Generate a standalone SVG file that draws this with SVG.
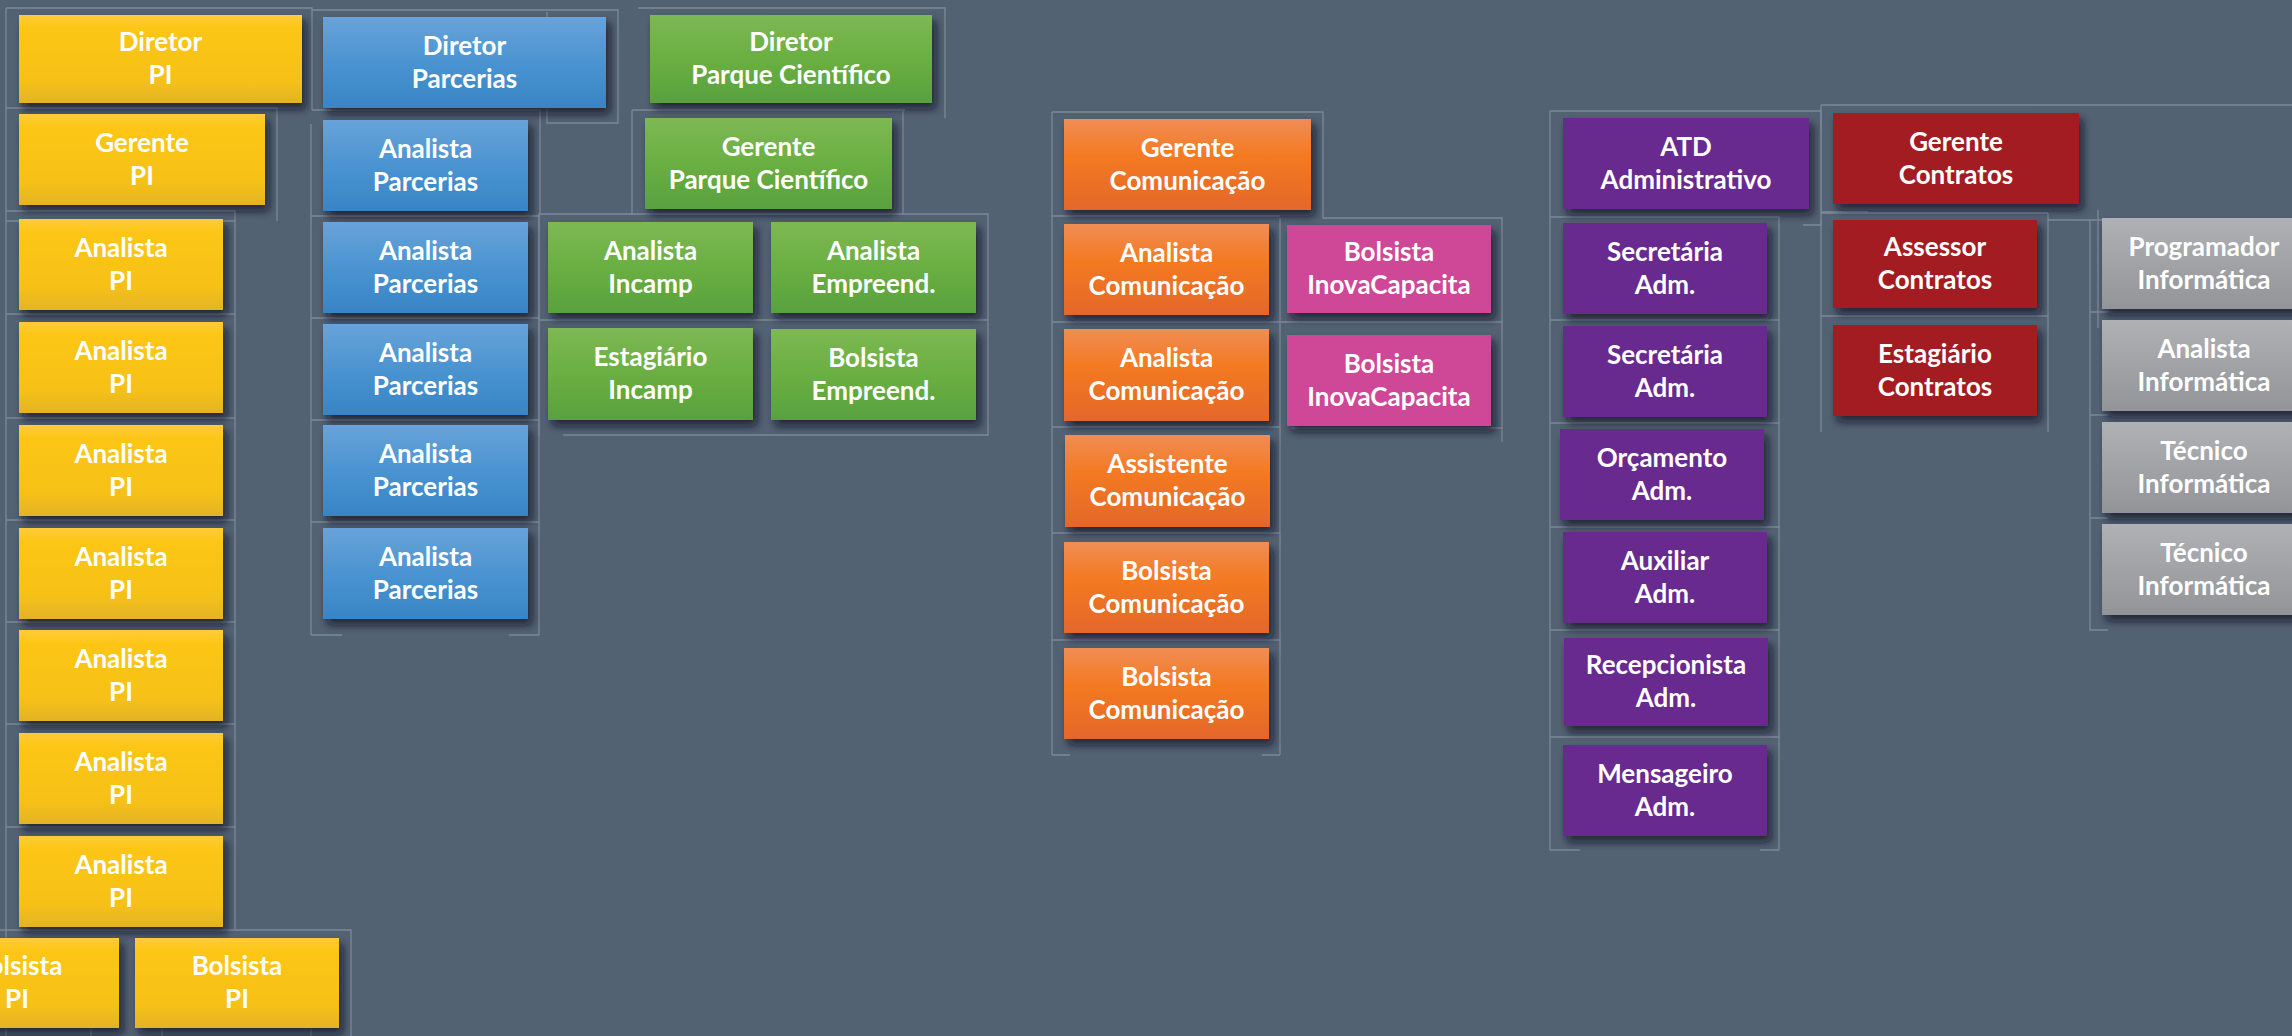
<svg xmlns="http://www.w3.org/2000/svg" width="2292" height="1036" viewBox="0 0 2292 1036">
<defs>
<linearGradient id="gY" x1="0" y1="0" x2="0" y2="1"><stop offset="0" stop-color="#FFCB3A"/><stop offset="0.15" stop-color="#FDC615"/><stop offset="0.75" stop-color="#F6C118"/><stop offset="1" stop-color="#E3B326"/></linearGradient>
<linearGradient id="gB" x1="0" y1="0" x2="0" y2="1"><stop offset="0" stop-color="#68A3D9"/><stop offset="0.55" stop-color="#4892D0"/><stop offset="1" stop-color="#3984C5"/></linearGradient>
<linearGradient id="gG" x1="0" y1="0" x2="0" y2="1"><stop offset="0" stop-color="#7DB853"/><stop offset="0.5" stop-color="#6AAF42"/><stop offset="1" stop-color="#58A13F"/></linearGradient>
<linearGradient id="gO" x1="0" y1="0" x2="0" y2="1"><stop offset="0" stop-color="#F08D55"/><stop offset="0.4" stop-color="#F47A22"/><stop offset="1" stop-color="#E3672A"/></linearGradient>
<linearGradient id="gS" x1="0" y1="0" x2="0" y2="1"><stop offset="0" stop-color="#AFB1B4"/><stop offset="1" stop-color="#929497"/></linearGradient>
<filter id="sh" x="-10%" y="-10%" width="130%" height="140%"><feDropShadow dx="4" dy="6" stdDeviation="4" flood-color="#0d1520" flood-opacity="0.75"/></filter>
</defs>
<style>
.n rect{filter:url(#sh)}
.y rect{fill:url(#gY)}
.b rect{fill:url(#gB)}
.g rect{fill:url(#gG)}
.o rect{fill:url(#gO)}
.p rect{fill:#CF4697}
.v rect{fill:#682C8F}
.r rect{fill:#A31D22}
.s rect{fill:url(#gS)}
.n text{font-family:Lato,"Open Sans","Liberation Sans",sans-serif;font-weight:700;font-size:26px;fill:#fff;text-anchor:middle}
.c{stroke:#8D99A7;stroke-width:1.3;fill:none;opacity:0.7}
</style>
<rect width="2292" height="1036" fill="#536273"/>
<g id="connectors" class="c">
<path d="M6 8V1036M6 8H312V110M6 108H277V221M6 221H235M6 211H235V930M6 314H235M6 418H235M6 520H235M6 622H235M6 724H235M6 827H235M0 930H351V1036M91 1028V1036M162 1028V1036M311 1028V1036"/>
<path d="M312 10H618V123H547V12M312 110H540V213M311 124V635M539 213V635M311 216H539M311 318H539M311 420H539M311 522H539M311 635H342M509 635H539"/>
<path d="M638 8H945V118M632 110H905M632 110V215M903 110V215M539 214H988V436M539 214V436M539 320H988M563 435H988"/>
<path d="M1052 112H1323V218H1502V442M1052 112V755M1052 216H1280M1280 218V755M1052 322H1502M1052 427H1280M1052 533H1280M1052 640H1280M1052 755H1070M1262 755H1280M1291 428H1502"/>
<path d="M1550 111H1821V225H1803M1550 111V850M1550 217H1779V850M1550 320H1779M1550 423H1779M1550 527H1779M1550 630H1779M1550 737H1779M1550 850H1580M1760 850H1779"/>
<path d="M1821 105H2292M1821 105V212H1868M1821 220V432M2048 213V432M1821 316H2048M1821 213H2048M2048 220H2292M2090 220V630H2108M2098 210V328M2090 312H2108M2090 415H2108M2090 518H2108"/>
</g>
<g id="diretor-pi" class="n y"><rect x="19" y="15" width="283" height="88"/><text x="160.5" y="51">Diretor</text><text x="160.5" y="84">PI</text></g>
<g id="gerente-pi" class="n y"><rect x="19" y="114" width="246" height="91"/><text x="142" y="151.5">Gerente</text><text x="142" y="184.5">PI</text></g>
<g id="analista-pi-1" class="n y"><rect x="19" y="219" width="204" height="91"/><text x="121" y="256.5">Analista</text><text x="121" y="289.5">PI</text></g>
<g id="analista-pi-2" class="n y"><rect x="19" y="322" width="204" height="91"/><text x="121" y="359.5">Analista</text><text x="121" y="392.5">PI</text></g>
<g id="analista-pi-3" class="n y"><rect x="19" y="425" width="204" height="91"/><text x="121" y="462.5">Analista</text><text x="121" y="495.5">PI</text></g>
<g id="analista-pi-4" class="n y"><rect x="19" y="528" width="204" height="91"/><text x="121" y="565.5">Analista</text><text x="121" y="598.5">PI</text></g>
<g id="analista-pi-5" class="n y"><rect x="19" y="630" width="204" height="91"/><text x="121" y="667.5">Analista</text><text x="121" y="700.5">PI</text></g>
<g id="analista-pi-6" class="n y"><rect x="19" y="733" width="204" height="91"/><text x="121" y="770.5">Analista</text><text x="121" y="803.5">PI</text></g>
<g id="analista-pi-7" class="n y"><rect x="19" y="836" width="204" height="91"/><text x="121" y="873.5">Analista</text><text x="121" y="906.5">PI</text></g>
<g id="bolsista-pi-1" class="n y"><rect x="-85" y="938" width="204" height="90"/><text x="17" y="975">Bolsista</text><text x="17" y="1008">PI</text></g>
<g id="bolsista-pi-2" class="n y"><rect x="135" y="938" width="204" height="90"/><text x="237" y="975">Bolsista</text><text x="237" y="1008">PI</text></g>
<g id="diretor-parcerias" class="n b"><rect x="323" y="17" width="283" height="91"/><text x="464.5" y="54.5">Diretor</text><text x="464.5" y="87.5">Parcerias</text></g>
<g id="analista-parcerias-1" class="n b"><rect x="323" y="120" width="205" height="91"/><text x="425.5" y="157.5">Analista</text><text x="425.5" y="190.5">Parcerias</text></g>
<g id="analista-parcerias-2" class="n b"><rect x="323" y="222" width="205" height="91"/><text x="425.5" y="259.5">Analista</text><text x="425.5" y="292.5">Parcerias</text></g>
<g id="analista-parcerias-3" class="n b"><rect x="323" y="324" width="205" height="91"/><text x="425.5" y="361.5">Analista</text><text x="425.5" y="394.5">Parcerias</text></g>
<g id="analista-parcerias-4" class="n b"><rect x="323" y="425" width="205" height="91"/><text x="425.5" y="462.5">Analista</text><text x="425.5" y="495.5">Parcerias</text></g>
<g id="analista-parcerias-5" class="n b"><rect x="323" y="528" width="205" height="91"/><text x="425.5" y="565.5">Analista</text><text x="425.5" y="598.5">Parcerias</text></g>
<g id="diretor-parque" class="n g"><rect x="650" y="15" width="282" height="88"/><text x="791" y="51">Diretor</text><text x="791" y="84">Parque Científico</text></g>
<g id="gerente-parque" class="n g"><rect x="645" y="118" width="247" height="91"/><text x="768.5" y="155.5">Gerente</text><text x="768.5" y="188.5">Parque Científico</text></g>
<g id="analista-incamp" class="n g"><rect x="548" y="222" width="205" height="91"/><text x="650.5" y="259.5">Analista</text><text x="650.5" y="292.5">Incamp</text></g>
<g id="analista-empreend" class="n g"><rect x="771" y="222" width="205" height="91"/><text x="873.5" y="259.5">Analista</text><text x="873.5" y="292.5">Empreend.</text></g>
<g id="estagiario-incamp" class="n g"><rect x="548" y="328" width="205" height="92"/><text x="650.5" y="366">Estagiário</text><text x="650.5" y="399">Incamp</text></g>
<g id="bolsista-empreend" class="n g"><rect x="771" y="329" width="205" height="91"/><text x="873.5" y="366.5">Bolsista</text><text x="873.5" y="399.5">Empreend.</text></g>
<g id="gerente-comunicacao" class="n o"><rect x="1064" y="119" width="247" height="91"/><text x="1187.5" y="156.5">Gerente</text><text x="1187.5" y="189.5">Comunicação</text></g>
<g id="analista-comunicacao-1" class="n o"><rect x="1064" y="224" width="205" height="91"/><text x="1166.5" y="261.5">Analista</text><text x="1166.5" y="294.5">Comunicação</text></g>
<g id="analista-comunicacao-2" class="n o"><rect x="1064" y="329" width="205" height="92"/><text x="1166.5" y="367">Analista</text><text x="1166.5" y="400">Comunicação</text></g>
<g id="assistente-comunicacao" class="n o"><rect x="1065" y="435" width="205" height="92"/><text x="1167.5" y="473">Assistente</text><text x="1167.5" y="506">Comunicação</text></g>
<g id="bolsista-comunicacao-1" class="n o"><rect x="1064" y="542" width="205" height="91"/><text x="1166.5" y="579.5">Bolsista</text><text x="1166.5" y="612.5">Comunicação</text></g>
<g id="bolsista-comunicacao-2" class="n o"><rect x="1064" y="648" width="205" height="91"/><text x="1166.5" y="685.5">Bolsista</text><text x="1166.5" y="718.5">Comunicação</text></g>
<g id="bolsista-inova-1" class="n p"><rect x="1287" y="225" width="204" height="88"/><text x="1389" y="261">Bolsista</text><text x="1389" y="294">InovaCapacita</text></g>
<g id="bolsista-inova-2" class="n p"><rect x="1287" y="335" width="204" height="91"/><text x="1389" y="372.5">Bolsista</text><text x="1389" y="405.5">InovaCapacita</text></g>
<g id="atd-administrativo" class="n v"><rect x="1563" y="118" width="246" height="91"/><text x="1686" y="155.5">ATD</text><text x="1686" y="188.5">Administrativo</text></g>
<g id="secretaria-adm-1" class="n v"><rect x="1563" y="223" width="204" height="91"/><text x="1665" y="260.5">Secretária</text><text x="1665" y="293.5">Adm.</text></g>
<g id="secretaria-adm-2" class="n v"><rect x="1563" y="326" width="204" height="91"/><text x="1665" y="363.5">Secretária</text><text x="1665" y="396.5">Adm.</text></g>
<g id="orcamento-adm" class="n v"><rect x="1560" y="429" width="204" height="91"/><text x="1662" y="466.5">Orçamento</text><text x="1662" y="499.5">Adm.</text></g>
<g id="auxiliar-adm" class="n v"><rect x="1563" y="532" width="204" height="91"/><text x="1665" y="569.5">Auxiliar</text><text x="1665" y="602.5">Adm.</text></g>
<g id="recepcionista-adm" class="n v"><rect x="1564" y="638" width="204" height="88"/><text x="1666" y="674">Recepcionista</text><text x="1666" y="707">Adm.</text></g>
<g id="mensageiro-adm" class="n v"><rect x="1563" y="745" width="204" height="91"/><text x="1665" y="782.5">Mensageiro</text><text x="1665" y="815.5">Adm.</text></g>
<g id="gerente-contratos" class="n r"><rect x="1833" y="113" width="246" height="91"/><text x="1956" y="150.5">Gerente</text><text x="1956" y="183.5">Contratos</text></g>
<g id="assessor-contratos" class="n r"><rect x="1833" y="220" width="204" height="88"/><text x="1935" y="256">Assessor</text><text x="1935" y="289">Contratos</text></g>
<g id="estagiario-contratos" class="n r"><rect x="1833" y="325" width="204" height="91"/><text x="1935" y="362.5">Estagiário</text><text x="1935" y="395.5">Contratos</text></g>
<g id="programador-informatica" class="n s"><rect x="2102" y="218" width="204" height="91"/><text x="2204" y="255.5">Programador</text><text x="2204" y="288.5">Informática</text></g>
<g id="analista-informatica" class="n s"><rect x="2102" y="320" width="204" height="91"/><text x="2204" y="357.5">Analista</text><text x="2204" y="390.5">Informática</text></g>
<g id="tecnico-informatica-1" class="n s"><rect x="2102" y="422" width="204" height="91"/><text x="2204" y="459.5">Técnico</text><text x="2204" y="492.5">Informática</text></g>
<g id="tecnico-informatica-2" class="n s"><rect x="2102" y="524" width="204" height="91"/><text x="2204" y="561.5">Técnico</text><text x="2204" y="594.5">Informática</text></g>
</svg>
